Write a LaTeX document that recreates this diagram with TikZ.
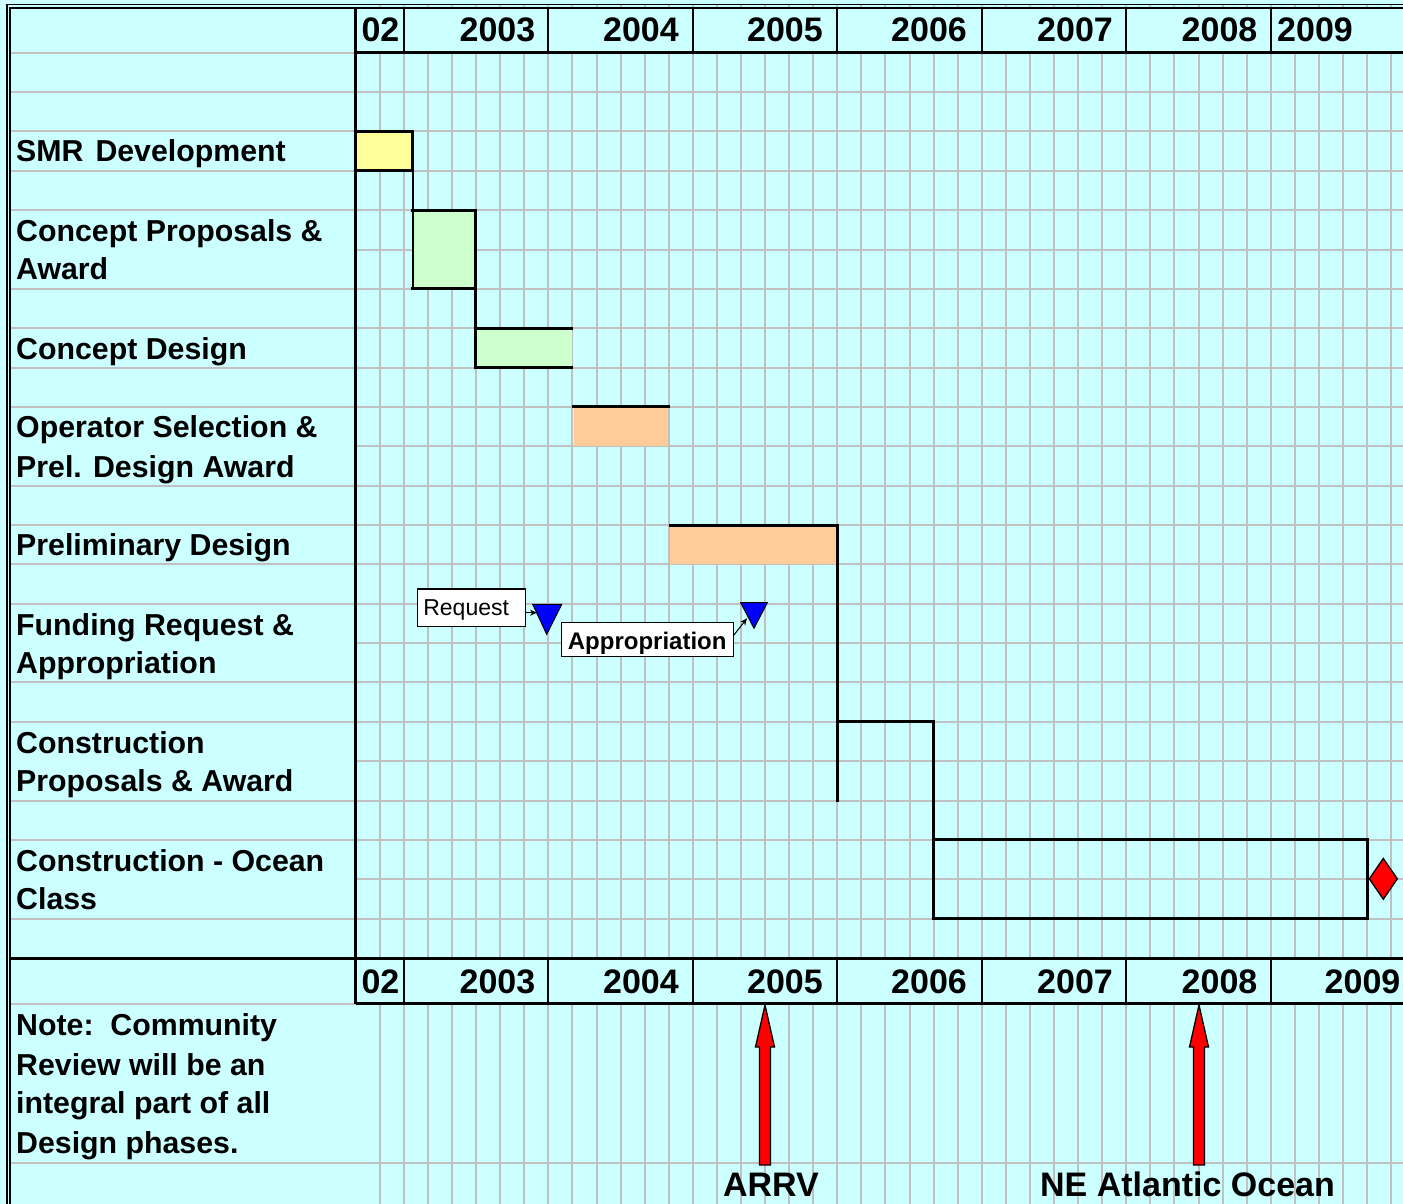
\documentclass[tikz,border=0pt]{standalone}
\usepackage{fontspec}
\setmainfont{Liberation Sans}
\usetikzlibrary{arrows.meta}
\definecolor{bgc}{HTML}{CCFFFF}
\definecolor{gridc}{HTML}{C0C0C0}
\definecolor{barY}{HTML}{FFFF99}
\definecolor{barG}{HTML}{CCFFCC}
\definecolor{barO}{HTML}{FFCC99}
\begin{document}
\begin{tikzpicture}[x=1pt,y=-1pt,
  gridl/.style={draw=gridc, line width=2pt},
  blk/.style={draw=black, line width=3pt, line cap=rect},
  lbl/.style={font=\bfseries\fontsize{30.3}{36}\selectfont, anchor=base west, inner sep=0pt},
  yr/.style={font=\bfseries\fontsize{34}{40}\selectfont, anchor=base, inner sep=0pt},
  tri/.style={fill=blue, draw=black, line width=1pt, line join=miter},
  redarrow/.style={fill=red, draw=black, line width=1.3pt},
  conn/.style={draw=black, line width=1pt, -{Stealth[length=7pt,width=6pt]}}
]
\useasboundingbox (0,0) rectangle (1403,1204);
\fill[bgc] (0,0) rectangle (1403,1204);

% vertical grid
\foreach \k in {1,...,43} \draw[gridl] ({355.7+24.08*\k},4.7) -- ({355.7+24.08*\k},1204);
% horizontal grid, chart part
\foreach \k in {1,...,22} \draw[gridl] (356,{52.7+39.36*\k}) -- (1403,{52.7+39.36*\k});
% horizontal grid, label column
\foreach \k in {0,1,2,3,4,6,7,8,9,11,12,13,14,16,17,19,20,22}
  \draw[gridl] (10,{52.7+39.36*\k}) -- (356,{52.7+39.36*\k});
\draw[gridl] (10,1004) -- (356,1004);
\draw[gridl] (10,1163) -- (1403,1163);

% header cells
\fill[bgc] (357,8) rectangle (1403,52.7);
\fill[bgc] (357,958) rectangle (1403,1004);

% bars (fills)
\fill[barY] (355.7,131.4) rectangle (412.7,170.8);
\fill[barG] (412.7,210.1) rectangle (475.5,288.9);
\fill[barG] (475.5,328.2) rectangle (571.7,367.6);
\fill[barO] (573.5,406.9) rectangle (668,446.3);
\fill[barO] (670,525) rectangle (837.6,564.4);

% bar outlines
\draw[blk] (355.7,131.4) -- (412.7,131.4) -- (412.7,170.8) -- (355.7,170.8);
\draw[draw=black, line width=2pt] (412.7,170.8) -- (412.7,288.9);
\draw[blk] (412.7,210.1) -- (475.5,210.1) -- (475.5,367.6);
\draw[blk] (412.7,288.9) -- (475.5,288.9);
\draw[blk] (475.5,328.2) -- (571.7,328.2);
\draw[blk] (475.5,367.6) -- (571.7,367.6);
\draw[blk] (573.5,406.9) -- (668,406.9);
\draw[blk] (670,525) -- (837.6,525) -- (837.6,800.5);
\draw[blk] (837.6,721.8) -- (933,721.8) -- (933,918.6);
\draw[blk] (933,839.9) -- (1367,839.9) -- (1367,918.6) -- (933,918.6);

% milestone diamond
\draw[fill=red, draw=black, line width=1.3pt] (1383.3,858.5) -- (1397.3,878.8) -- (1383.3,899.2) -- (1369.3,878.8) -- cycle;

% header lines
\foreach \k in {2,8,14,20,26,32,38} {
  \draw[line width=2.2pt] ({355.7+24.08*\k},8) -- ({355.7+24.08*\k},52.7);
  \draw[line width=2.2pt] ({355.7+24.08*\k},958.5) -- ({355.7+24.08*\k},1003.5);
}
\draw[line width=2.8pt] (355.7,52.7) -- (1403,52.7);
\draw[line width=2.8pt] (355.7,8) -- (355.7,1003.5);
\draw[line width=3.2pt] (10,958.5) -- (1403,958.5);
\draw[line width=2.4pt] (355.7,1003.5) -- (1403,1003.5);
% outer double border
\draw[line width=1.3pt] (7,1204) -- (7,4.7) -- (1403,4.7);
\draw[line width=1.3pt] (10,1204) -- (10,8) -- (1403,8);

% year labels
\node[yr] (t02) at (380.5,41.7) {02};
\node[yr] (t03) at (497.5,41.7) {2003};
\node[yr] (t04) at (641,41.7) {2004};
\node[yr] (t05) at (785,41.7) {2005};
\node[yr] (t06) at (929,41.7) {2006};
\node[yr] (t07) at (1075,41.7) {2007};
\node[yr] (t08) at (1219.5,41.7) {2008};
\node[yr] (t09) at (1315,41.7) {2009};
\node[yr] (b02) at (380.5,993.3) {02};
\node[yr] (b03) at (497.5,993.3) {2003};
\node[yr] (b04) at (641,993.3) {2004};
\node[yr] (b05) at (785,993.3) {2005};
\node[yr] (b06) at (929,993.3) {2006};
\node[yr] (b07) at (1075,993.3) {2007};
\node[yr] (b08) at (1219.5,993.3) {2008};
\node[yr] (b09) at (1362.5,993.3) {2009};

% row labels
\node[lbl] (l1) at (16,161) {SMR\hspace{12pt}Development};
\node[lbl] (l2a) at (16,241.5) {Concept Proposals \&};
\node[lbl] (l2b) at (16,279.5) {Award};
\node[lbl] (l3) at (16,359.5) {Concept Design};
\node[lbl] (l4a) at (16,437.5) {Operator Selection \&};
\node[lbl] (l4b) at (16,477) {Prel. Design Award};
\node[lbl] (l5) at (16,555.5) {Preliminary Design};
\node[lbl] (l6a) at (16,635.5) {Funding Request \&};
\node[lbl] (l6b) at (16,673.5) {Appropriation};
\node[lbl] (l7a) at (16,753.5) {Construction};
\node[lbl] (l7b) at (16,791.5) {Proposals \& Award};
\node[lbl] (l8a) at (16,871.5) {Construction - Ocean};
\node[lbl] (l8b) at (16,909.5) {Class};
\node[lbl] (n1) at (16,1035.5) {Note:\ \ Community};
\node[lbl] (n2) at (16,1075) {Review will be an};
\node[lbl] (n3) at (16,1113.5) {integral part of all};
\node[lbl] (n4) at (16,1153) {Design phases.};

% funding milestones
\draw[tri] (532.7,604.3) -- (561.7,604.3) -- (546.7,634.3) -- cycle;
\draw[tri] (740.7,602.7) -- (767.3,602.7) -- (754,628.3) -- cycle;
\coordinate (tri1) at (537,612.7);
\coordinate (tri2) at (747,618.3);
\node[draw=black, fill=white, line width=1.3pt, inner xsep=6pt, text width=96pt, align=left,
      text depth=0pt, minimum height=37.7pt, anchor=west, font=\fontsize{23}{26}\selectfont] (req) at (416.7,607.9) {Request};
\node[draw=black, fill=white, line width=1.3pt, minimum width=172pt, minimum height=34pt, inner sep=0pt,
      text height=19.2pt, text depth=0pt,
      font=\bfseries\fontsize{24}{28}\selectfont] (app) at (647.2,639.7) {Appropriation};
\draw[conn] ([yshift=-4.8pt]req.east) -- (tri1);
\draw[conn] ([yshift=4.6pt]app.east) -- (tri2);

% bottom labels and red arrows
\node[yr] (arrv) at (771,1196.5) {ARRV};
\node[yr] (neao) at (1187.5,1196.5) {NE Atlantic Ocean};
\draw[redarrow] (759.5,1165) -- (759.5,1047) -- (755.5,1047) -- (765,1005) -- (774.5,1047) -- (770.5,1047) -- (770.5,1165) -- cycle;
\draw[redarrow] (1193.5,1165) -- (1193.5,1047) -- (1189.5,1047) -- (1199,1005) -- (1208.5,1047) -- (1204.5,1047) -- (1204.5,1165) -- cycle;
\end{tikzpicture}
\end{document}
